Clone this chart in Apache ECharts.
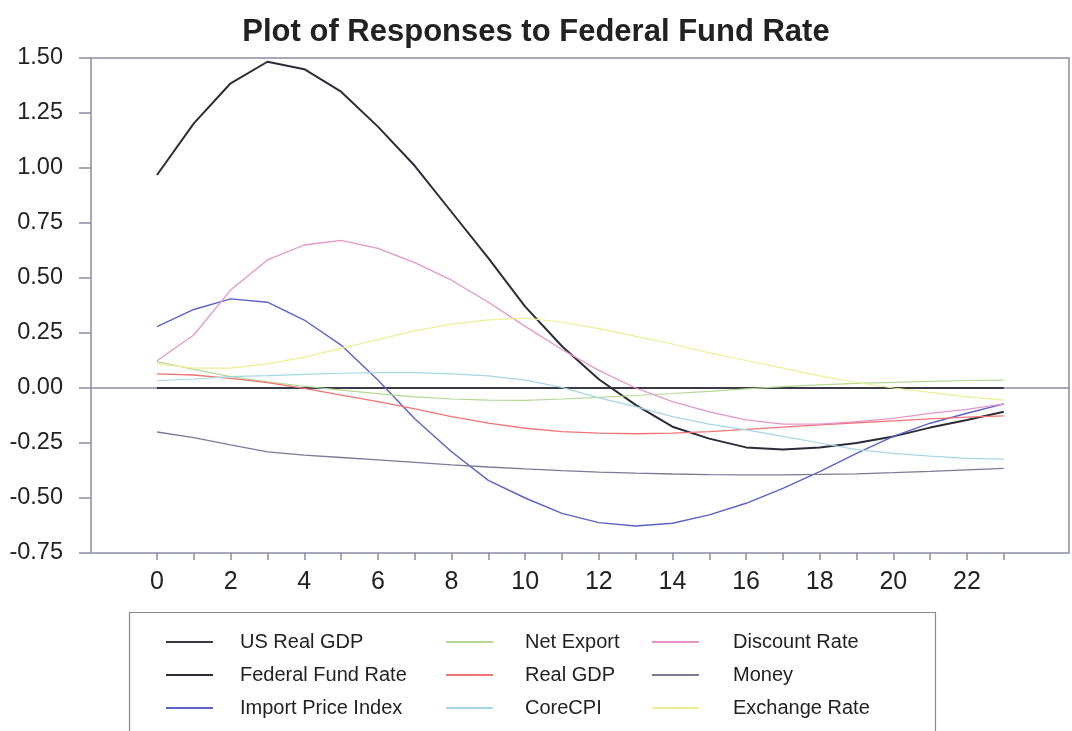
<!DOCTYPE html>
<html>
<head>
<meta charset="utf-8">
<script src="https://cdn.jsdelivr.net/npm/echarts@6/dist/echarts.min.js"></script>
<style>
html,body{margin:0;padding:0;background:#fff;}
#chart{width:1072px;height:731px;}
</style>
</head>
<body>
<div id="chart"></div>
<script>
// ---- data ----
const periods = [0,1,2,3,4,5,6,7,8,9,10,11,12,13,14,15,16,17,18,19,20,21,22,23];
const xTickLabels = ['0','2','4','6','8','10','12','14','16','18','20','22'];
const yTickLabels = ['-0.75','-0.50','-0.25','0.00','0.25','0.50','0.75','1.00','1.25','1.50'];

const usRealGDP      = [0,0,0,0,0,0,0,0,0,0,0,0,0,0,0,0,0,0,0,0,0,0,0,0];
const federalFund    = [0.968,1.203,1.385,1.483,1.449,1.347,1.188,1.01,0.80,0.59,0.37,0.19,0.04,-0.077,-0.176,-0.23,-0.27,-0.28,-0.27,-0.25,-0.22,-0.18,-0.145,-0.108];
const importPrice    = [0.279,0.357,0.405,0.39,0.309,0.195,0.036,-0.14,-0.29,-0.42,-0.50,-0.57,-0.612,-0.627,-0.615,-0.577,-0.524,-0.456,-0.38,-0.297,-0.22,-0.16,-0.115,-0.072];
const netExport      = [0.12,0.085,0.052,0.028,0.008,-0.01,-0.026,-0.04,-0.05,-0.055,-0.056,-0.05,-0.043,-0.034,-0.025,-0.015,-0.004,0.006,0.014,0.021,0.026,0.03,0.034,0.036];
const realGDP        = [0.064,0.059,0.044,0.024,-0.002,-0.032,-0.062,-0.095,-0.13,-0.16,-0.183,-0.198,-0.205,-0.208,-0.205,-0.198,-0.188,-0.178,-0.168,-0.158,-0.149,-0.14,-0.132,-0.127];
const coreCPI        = [0.033,0.041,0.052,0.056,0.062,0.067,0.07,0.07,0.064,0.055,0.036,0.003,-0.045,-0.085,-0.13,-0.164,-0.19,-0.22,-0.25,-0.28,-0.297,-0.31,-0.32,-0.323];
const discountRate   = [0.124,0.241,0.445,0.582,0.65,0.671,0.635,0.57,0.49,0.39,0.28,0.175,0.08,0.0,-0.062,-0.108,-0.145,-0.164,-0.164,-0.153,-0.138,-0.115,-0.097,-0.072];
const money          = [-0.20,-0.226,-0.259,-0.29,-0.305,-0.316,-0.327,-0.338,-0.349,-0.359,-0.368,-0.376,-0.382,-0.387,-0.391,-0.394,-0.395,-0.395,-0.393,-0.39,-0.385,-0.379,-0.372,-0.365];
const exchangeRate   = [0.11,0.09,0.09,0.11,0.14,0.18,0.22,0.26,0.29,0.31,0.318,0.30,0.27,0.235,0.20,0.16,0.125,0.09,0.055,0.025,0.0,-0.02,-0.04,-0.055];

const seriesDefs = [
  {name:'US Real GDP',        data:usRealGDP,    color:'#3a3a46', width:2.2},
  {name:'Federal Fund Rate',  data:federalFund,  color:'#2c2c38', width:2},
  {name:'Import Price Index', data:importPrice,  color:'#5a62c4', width:1.4},
  {name:'Net Export',         data:netExport,    color:'#b4d894', width:1.2},
  {name:'Real GDP',           data:realGDP,      color:'#f07474', width:1.3},
  {name:'CoreCPI',            data:coreCPI,      color:'#a6d6e6', width:1.2},
  {name:'Discount Rate',      data:discountRate, color:'#e496cc', width:1.3},
  {name:'Money',              data:money,        color:'#7a7a98', width:1.3},
  {name:'Exchange Rate',      data:exchangeRate, color:'#eeee96', width:1.2}
];
const legendCols = [
  ['US Real GDP','Federal Fund Rate','Import Price Index'],
  ['Net Export','Real GDP','CoreCPI'],
  ['Discount Rate','Money','Exchange Rate']
];

const FONT = "'Liberation Sans',Arial,sans-serif";
const FRAME = '#8c8ca8';

const chart = echarts.init(document.getElementById('chart'), null, {renderer:'canvas'});

const series = seriesDefs.map(s => ({
  name: s.name,
  type: 'line',
  xAxisIndex: 1,
  yAxisIndex: 1,
  symbol: 'none',
  smooth: false,
  lineStyle: {color: s.color, width: s.width},
  itemStyle: {color: s.color},
  data: periods.map((p,i) => [p, s.data[i]])
}));

const legendLefts = [161, 441, 647];
const legendGaps = [27, 32, 34];
const legends = legendCols.map((names, ci) => ({
  orient: 'vertical',
  left: legendLefts[ci],
  top: 626,
  itemWidth: 47,
  itemHeight: 2,
  itemGap: 11,
  icon: 'rect',
  data: names,
  selectedMode: false,
  textStyle: {fontFamily: FONT, fontSize: 20, color: '#222', lineHeight: 22, padding: [0,0,0,legendGaps[ci]-5]}
}));

chart.setOption({
  animation: false,
  backgroundColor: '#fff',
  title: {
    text: 'Plot of Responses to Federal Fund Rate',
    left: 'center',
    top: 12,
    textStyle: {fontFamily: FONT, fontSize: 31, fontWeight: 'bold', color: '#222'}
  },
  legend: legends,
  grid: [
    {left: 91, right: 3, top: 58, bottom: 178, show: true, borderColor: FRAME, borderWidth: 1.5, backgroundColor: 'transparent'},
    {left: 157, right: 68.2, top: 58, bottom: 178, show: false}
  ],
  xAxis: [
    {gridIndex: 0, type: 'value', min: 0, max: 1,
     axisLine: {show: true, onZero: true, lineStyle: {color: FRAME, width: 1.5}},
     axisTick: {show: false}, axisLabel: {show: false}, splitLine: {show: false}},
    {gridIndex: 1, type: 'value', min: 0, max: 23, interval: 1, position: 'bottom',
     axisLine: {show: false, onZero: false},
     axisTick: {show: true, inside: false, length: 7, lineStyle: {color: FRAME, width: 1.5}},
     axisLabel: {show: true, margin: 17, fontFamily: FONT, fontSize: 25, color: '#222',
       formatter: v => xTickLabels.indexOf(String(v)) >= 0 ? String(v) : ''},
     splitLine: {show: false}}
  ],
  yAxis: [
    {gridIndex: 0, type: 'value', min: -0.75, max: 1.5, interval: 0.25,
     axisLine: {show: false},
     axisTick: {show: true, inside: false, length: 12, lineStyle: {color: FRAME, width: 1.5}},
     axisLabel: {show: true, margin: 28, fontFamily: FONT, fontSize: 23.5, color: '#222',
       formatter: v => { const s = v.toFixed(2); return yTickLabels.indexOf(s) >= 0 ? s : ''; }},
     splitLine: {show: false}},
    {gridIndex: 1, type: 'value', min: -0.75, max: 1.5, show: false}
  ],
  graphic: [
    {type: 'rect', shape: {x: 129.5, y: 612.5, width: 806, height: 140}, style: {fill: 'none', stroke: '#8a8a8a', lineWidth: 1.2}, z: -1}
  ],
  series: series
});
</script>
</body>
</html>
